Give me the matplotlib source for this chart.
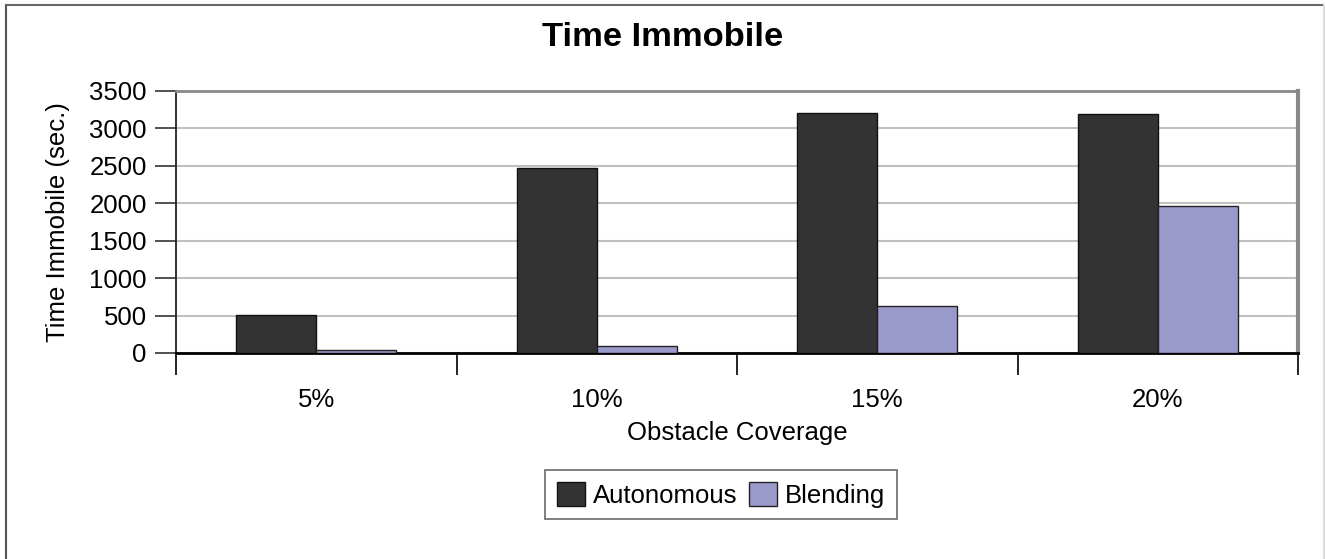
import matplotlib
matplotlib.use("Agg")
import matplotlib.pyplot as plt
from matplotlib.lines import Line2D
import numpy as np

plt.rcParams['font.family'] = ['Liberation Sans', 'DejaVu Sans']

categories = ["5%", "10%", "15%", "20%"]
autonomous = [505, 2465, 3200, 3188]
blending = [40, 100, 632, 1963]
series_names = ["Autonomous", "Blending"]
colors = ["#333333", "#9999cc"]

W, H = 1325, 559
fig = plt.figure(figsize=(W / 100, H / 100), dpi=100)
ax = fig.add_axes([176 / W, 1 - 353 / H, (1298 - 176) / W, (353 - 91) / H])

x = np.arange(len(categories)) + 0.5
bw = 0.286
ax.bar(x - bw / 2, autonomous, width=bw, color=colors[0], edgecolor="#111111",
       linewidth=1.0, label=series_names[0], zorder=3)
ax.bar(x + bw / 2, blending, width=bw, color=colors[1], edgecolor="#222222",
       linewidth=1.0, label=series_names[1], zorder=3)

ax.set_xlim(0, len(categories))
ax.set_ylim(0, 3500)
ax.set_yticks(np.arange(0, 3501, 500))
ax.yaxis.grid(True, color="#c0c0c0", linewidth=1.5, zorder=0)
ax.set_axisbelow(True)

ax.set_xticks(np.arange(0, len(categories) + 1))
ax.set_xticklabels([])
ax.set_xticks(x, minor=True)
ax.set_xticklabels(categories, minor=True)
ax.tick_params(axis="x", which="major", length=16, width=1.2, direction="out", color="black")
ax.tick_params(axis="x", which="minor", length=0, pad=25, labelsize=18.5)
ax.tick_params(axis="y", length=15, width=1.2, direction="out", labelsize=18.5, pad=6, color="#333333")

ax.spines["left"].set_color("#222222")
ax.spines["left"].set_linewidth(1.3)
ax.spines["bottom"].set_color("black")
ax.spines["bottom"].set_linewidth(2.0)
ax.spines["top"].set_color("#888888")
ax.spines["top"].set_linewidth(2.0)
ax.spines["right"].set_color("#888888")
ax.spines["right"].set_linewidth(3.0)

ax.set_xlabel("Obstacle Coverage", fontsize=18.5, labelpad=7)
ax.set_ylabel("Time Immobile (sec.)", fontsize=18.5, labelpad=14)

fig.text(0.5, 1 - 37 / H, "Time Immobile", ha="center", va="center",
         fontsize=24.8, fontweight="bold")

leg = fig.legend(loc="upper center", bbox_to_anchor=(721 / W, 1 - 470 / H), ncol=2,
                 fontsize=18.5, frameon=True, fancybox=False, edgecolor="#444444",
                 handlelength=1.1, handleheight=1.1, handletextpad=0.3,
                 columnspacing=0.45, borderpad=0.45, borderaxespad=0)
leg.get_frame().set_linewidth(1.2)

# outer chart frame
fig.add_artist(Line2D([6 / W, 6 / W], [0, 1 - 5 / H], transform=fig.transFigure,
                      color="#555555", linewidth=1.5))
fig.add_artist(Line2D([6 / W, 1324 / W], [1 - 5 / H, 1 - 5 / H], transform=fig.transFigure,
                      color="#666666", linewidth=1.5))
fig.add_artist(Line2D([1324 / W, 1324 / W], [0, 1 - 5 / H], transform=fig.transFigure,
                      color="#dddddd", linewidth=1.5))

fig.savefig("out.png", dpi=100)
